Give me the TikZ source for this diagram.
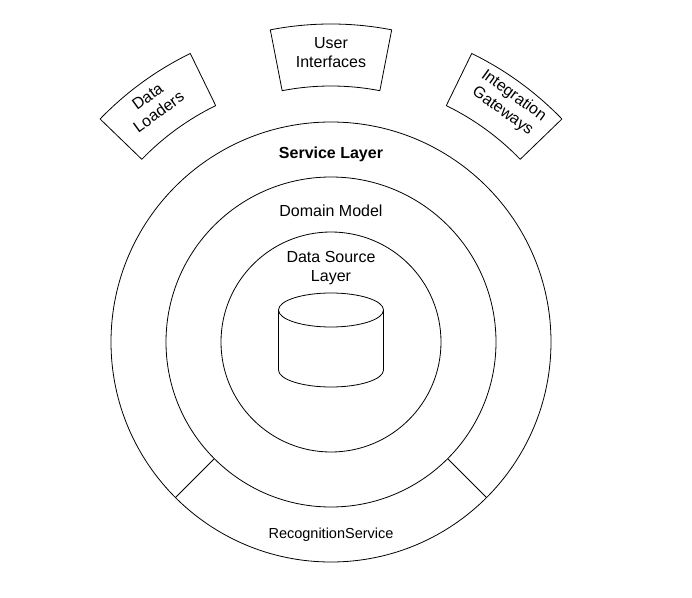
\documentclass[tikz,border=0pt]{standalone}
\usepackage{fontspec}
\setmainfont{Liberation Sans}
\begin{document}
\begin{tikzpicture}[x=1pt,y=1pt,
  ring/.style={circle,draw,line width=0.8pt,inner sep=0pt,outer sep=0pt},
  lbl/.style={font=\fontsize{16}{19}\selectfont,align=center,inner sep=0pt},
  small/.style={font=\fontsize{14.5}{17}\selectfont,inner sep=0pt},
  edge/.style={line width=0.8pt,line join=round}]
\useasboundingbox[fill=white] (-331,-255) rectangle (361,342);
% rings
\node[ring,minimum size=440pt] (outer) at (0,0) {};
\node[ring,minimum size=330pt] (mid) at (0,0) {};
\node[ring,minimum size=220pt] (inner) at (0,0) {};
% recognition service segment
\draw[edge] (mid.-135) -- (outer.-135);
\draw[edge] (mid.-45) -- (outer.-45);
% labels
\node[lbl,font=\fontsize{16}{19}\selectfont\bfseries] (svc) at (0,188) {Service Layer};
\node[lbl] (dom) at (0,131) {Domain Model};
\node[lbl] (dsl) at (0,74) {Data Source\\Layer};
\node[small] (rec) at (0,-193) {RecognitionService};
% cylinder
\draw[edge] (-52.5,32) arc[start angle=180,end angle=-180,x radius=52.5,y radius=17]
            (-52.5,32) -- (-52.5,-28) arc[start angle=180,end angle=360,x radius=52.5,y radius=17] -- (52.5,32);
\coordinate (db) at (0,2);
% outer sectors
\draw[edge] (79:256) -- (79:318) arc[start angle=79,end angle=101,radius=318]
            -- (101:256) arc[start angle=101,end angle=79,radius=256] -- cycle;
\node[lbl] (ui) at (90:289) {User\\Interfaces};
\draw[edge] (116:263) -- (116:321) arc[start angle=116,end angle=136,radius=321]
            -- (136:263) arc[start angle=136,end angle=116,radius=263] -- cycle;
\node[lbl,rotate=36] (dl) at (126.8:297) {Data\\Loaders};
\draw[edge] (44:263) -- (44:321) arc[start angle=44,end angle=64,radius=321]
            -- (64:263) arc[start angle=64,end angle=44,radius=263] -- cycle;
\node[lbl,rotate=-36] (ig) at (53.4:297) {Integration\\Gateways};
\end{tikzpicture}
\end{document}
